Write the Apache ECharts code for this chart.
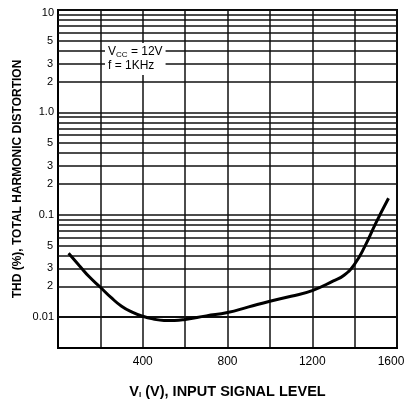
<!DOCTYPE html>
<html>
<head>
<meta charset="utf-8">
<script src="https://cdn.jsdelivr.net/npm/echarts@6/dist/echarts.min.js"></script>
<style>
html,body{margin:0;padding:0;background:#fff;}
#chart{width:407px;height:400px;}
</style>
</head>
<body>
<div id="chart"></div>
<script>
// ---- data ----
const inputLevel = [50, 100, 150, 200, 250, 300, 350, 400, 450, 500, 550, 600, 700, 800, 900, 1000, 1100, 1200, 1300, 1350, 1400, 1450, 1500, 1560];
const thdPercent = [0.042, 0.032, 0.0245, 0.0196, 0.0156, 0.0128, 0.0112, 0.0102, 0.0096, 0.0093, 0.0093, 0.0095, 0.0103, 0.0111, 0.0126, 0.0143, 0.016, 0.0182, 0.0226, 0.0257, 0.033, 0.05, 0.083, 0.145];

// axis ticks
const xTickLabels = [400, 800, 1200, 1600];
const decadeValues = [0.01, 0.1, 1, 10];
const decadeLabels = ['0.01', '0.1', '1.0', '10'];
const minorGridValues = [0.005, 0.006, 0.007, 0.008, 0.009,
                         0.02, 0.03, 0.04, 0.05, 0.06, 0.07, 0.08, 0.09,
                         0.2, 0.3, 0.4, 0.5, 0.6, 0.7, 0.8, 0.9,
                         2, 3, 4, 5, 6, 7, 8, 9];
const minorLabelValues = [0.02, 0.03, 0.05, 0.2, 0.3, 0.5, 2, 3, 5];
const minorLabels = ['2', '3', '5', '2', '3', '5', '2', '3', '5'];

const FONT = 'Liberation Sans, Arial, Helvetica, sans-serif';
const chart = echarts.init(document.getElementById('chart'), null, {renderer: 'canvas'});

function near(a, b) { return Math.abs(a - b) / b < 1e-6; }
function decadeLabel(v) {
  for (let i = 0; i < decadeValues.length; i++) {
    if (near(v, decadeValues[i])) {
      return i === decadeValues.length - 1 ? '{top|' + decadeLabels[i] + '}' : decadeLabels[i];
    }
  }
  return '';
}
function minorLabel(v) {
  for (let i = 0; i < minorLabelValues.length; i++) if (near(v, minorLabelValues[i])) return minorLabels[i];
  return '';
}
function xLabel(v) {
  if (xTickLabels.indexOf(v) < 0) return '';
  return v === xTickLabels[xTickLabels.length - 1] ? '{last|' + v + '}' : String(v);
}

const option = {
  animation: false,
  backgroundColor: '#fff',
  grid: {
    left: 58, right: 10, top: 10, bottom: 52,
    containLabel: false, outerBoundsMode: 'none',
    show: true, borderColor: '#000', borderWidth: 2, backgroundColor: 'transparent'
  },
  xAxis: {
    type: 'value', min: 0, max: 1600, interval: 200,
    axisLine: {show: true, lineStyle: {color: '#000', width: 2}},
    axisTick: {show: false},
    axisLabel: {
      color: '#000', fontSize: 12, fontFamily: FONT, margin: 8,
      formatter: xLabel,
      rich: {last: {fontSize: 12, fontFamily: FONT, color: '#000', padding: [0, 12, 0, 0]}}
    },
    splitLine: {show: true, lineStyle: {color: '#111', width: 1.5}},
    name: 'V{sub|I} (V), INPUT SIGNAL LEVEL',
    nameLocation: 'middle', nameGap: 36,
    nameTextStyle: {
      color: '#000', fontSize: 14.5, fontWeight: 'bold', fontFamily: FONT,
      rich: {sub: {fontSize: 8, fontWeight: 'bold', verticalAlign: 'bottom', padding: [5, 0, 0, 0], fontFamily: FONT}}
    }
  },
  yAxis: {
    type: 'log', logBase: 10, min: 0.005, max: 10,
    axisLine: {show: true, lineStyle: {color: '#000', width: 2}},
    axisTick: {show: false},
    axisLabel: {
      color: '#000', fontSize: 11, fontFamily: FONT, margin: 4,
      formatter: decadeLabel,
      rich: {top: {fontSize: 11, fontFamily: FONT, color: '#000', padding: [6, 0, 0, 0]}}
    },
    splitLine: {show: true, lineStyle: {color: '#111', width: 1.5}},
    name: 'THD (%), TOTAL HARMONIC DISTORTION',
    nameLocation: 'middle', nameGap: 34, nameRotate: 90, nameMoveOverlap: false,
    nameTextStyle: {color: '#000', fontSize: 12, fontWeight: 'bold', fontFamily: FONT}
  },
  series: [{
    type: 'line',
    data: inputLevel.map((x, i) => [x, thdPercent[i]]),
    smooth: true,
    symbol: 'none',
    z: 10,
    lineStyle: {color: '#000', width: 3},
    markLine: {
      silent: true,
      z: 1,
      symbol: ['none', 'none'],
      lineStyle: {color: '#111', width: 1.5, type: 'solid'},
      label: {show: true, position: 'start', distance: 5, color: '#000', fontSize: 11, fontFamily: FONT},
      emphasis: {disabled: true},
      data: minorGridValues.map(v => ({
        yAxis: v,
        label: {formatter: minorLabel(v)}
      }))
    }
  }],
  graphic: [{
    type: 'text',
    left: 105, top: 43, z: 100,
    style: {
      text: 'V{sub|CC} = 12V\nf = 1KHz',
      fill: '#000',
      font: '12px ' + FONT,
      backgroundColor: '#fff',
      padding: [2, 3, 2, 3],
      lineHeight: 14,
      rich: {sub: {fontSize: 8, fontFamily: FONT, verticalAlign: 'bottom', padding: [4, 0, 0, 0]}}
    }
  }]
};
chart.setOption(option);
</script>
</body>
</html>
